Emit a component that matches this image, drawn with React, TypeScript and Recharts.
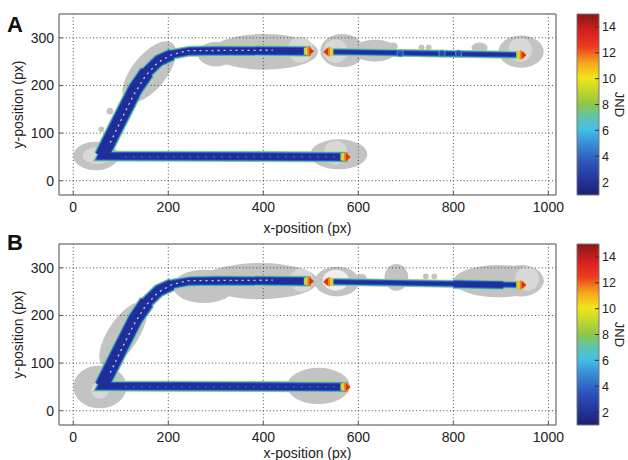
import React from 'react';
import { ComposedChart, XAxis, YAxis, Line, Scatter, ReferenceArea, ReferenceLine } from 'recharts';

const FONT = '"Liberation Sans", Arial, Helvetica, sans-serif';

const xTicks = [0, 200, 400, 600, 800, 1000];
const yTicks = [0, 100, 200, 300];
const jndTicks = [2, 4, 6, 8, 10, 12, 14];
const xDomain: [number, number] = [-30, 1016];
const yDomain: [number, number] = [-30, 350];
const jndDomain: [number, number] = [1, 15];

// trajectory centre-lines (video pixel coordinates)
const pathMain = [
  { x: 577, y: 50 }, { x: 60, y: 52 }, { x: 95, y: 122 }, { x: 131, y: 193 },
  { x: 155, y: 228 }, { x: 180, y: 252 }, { x: 210, y: 266 }, { x: 245, y: 272 },
  { x: 300, y: 273 }, { x: 500, y: 272 },
];
const pathDiagWide = [
  { x: 60, y: 52 }, { x: 95, y: 122 }, { x: 131, y: 193 }, { x: 155, y: 228 },
];
const pathDiagUpper = [
  { x: 131, y: 193 }, { x: 155, y: 228 }, { x: 180, y: 252 }, { x: 208, y: 265 },
];
const pathRight = [{ x: 535, y: 271 }, { x: 947, y: 264 }];
const pathRightThickB = [{ x: 800, y: 266 }, { x: 905, y: 264 }];
const speckleLine = [
  { x: 78, y: 80 }, { x: 102, y: 130 }, { x: 127, y: 180 }, { x: 152, y: 220 },
  { x: 178, y: 248 }, { x: 208, y: 265 }, { x: 240, y: 273 }, { x: 420, y: 274 },
];
const bottomSpeckles = [{ x: 110, y: 50 }, { x: 560, y: 50 }];

const tipsEnd = [{ x: 577, y: 50 }, { x: 500, y: 272 }, { x: 947, y: 264 }];
const tipsStart = [{ x: 533, y: 271 }];
const dotsA = [{ x: 688, y: 267 }, { x: 776, y: 267 }, { x: 811, y: 267 }];

type Region = { x1: number; x2: number; y1: number; y2: number; angle?: number };

const blobsA: Region[] = [
  { x1: 0, x2: 95, y1: 22, y2: 82 },
  { x1: 70, x2: 84, y1: 139, y2: 153 },
  { x1: 53, x2: 65, y1: 102, y2: 114 },
  { x1: 82, x2: 238, y1: 192, y2: 264, angle: -51 },
  { x1: 262, x2: 340, y1: 240, y2: 292 },
  { x1: 290, x2: 515, y1: 233, y2: 308 },
  { x1: 520, x2: 612, y1: 238, y2: 308 },
  { x1: 590, x2: 680, y1: 250, y2: 296 },
  { x1: 663, x2: 683, y1: 274, y2: 290 },
  { x1: 727, x2: 739, y1: 274, y2: 286 },
  { x1: 742, x2: 754, y1: 274, y2: 286 },
  { x1: 838, x2: 872, y1: 268, y2: 290 },
  { x1: 895, x2: 990, y1: 237, y2: 305 },
  { x1: 499, x2: 619, y1: 24, y2: 87 },
];
const lightA: Region[] = [
  { x1: 451, x2: 505, y1: 248, y2: 302 },
  { x1: 527, x2: 577, y1: 247, y2: 297 },
  { x1: 527, x2: 577, y1: 34, y2: 84 },
  { x1: 916, x2: 966, y1: 250, y2: 300 },
  { x1: 20, x2: 80, y1: 35, y2: 70 },
];
const blobsB: Region[] = [
  { x1: 0, x2: 112, y1: 5, y2: 95 },
  { x1: 27, x2: 183, y1: 128, y2: 192, angle: -57 },
  { x1: 210, x2: 340, y1: 226, y2: 296 },
  { x1: 270, x2: 515, y1: 234, y2: 310 },
  { x1: 508, x2: 602, y1: 240, y2: 302 },
  { x1: 597, x2: 617, y1: 273, y2: 287 },
  { x1: 655, x2: 705, y1: 252, y2: 308 },
  { x1: 736, x2: 748, y1: 276, y2: 288 },
  { x1: 754, x2: 766, y1: 276, y2: 288 },
  { x1: 800, x2: 990, y1: 238, y2: 306 },
  { x1: 895, x2: 990, y1: 240, y2: 306 },
  { x1: 450, x2: 582, y1: 14, y2: 90 },
];
const lightB: Region[] = [
  { x1: 38, x2: 74, y1: 25, y2: 61 },
  { x1: 930, x2: 980, y1: 252, y2: 302 },
  { x1: 455, x2: 505, y1: 250, y2: 298 },
];
const whiteB: Region[] = [
  { x1: 525, x2: 580, y1: 252, y2: 296 },
];

const tubeLayers = [
  { d: 1, c: '#b5d652' },
  { d: 0, c: '#4fc0d8' },
  { d: -1.5, c: '#2f5cc8' },
  { d: -3.5, c: '#1e2f99' },
];

const BlobShape = (p: any) => {
  const w = Math.abs(p.width);
  const h = Math.abs(p.height);
  const cx = p.x + p.width / 2;
  const cy = p.y + p.height / 2;
  return (
    <ellipse
      cx={cx}
      cy={cy}
      rx={w / 2}
      ry={h / 2}
      fill={p.color}
      transform={p.angle ? `rotate(${p.angle} ${cx} ${cy})` : undefined}
    />
  );
};

const TipEnd = (p: any) => {
  const { cx, cy } = p;
  return (
    <g>
      <rect x={cx - 7} y={cy - 3.5} width={3} height={7} fill="#b3d648" />
      <rect x={cx - 5} y={cy - 4} width={2} height={8} fill="#f3d51e" />
      <path d={`M${cx - 3.5},${cy - 5} L${cx + 1},${cy - 3} L${cx + 3},${cy} L${cx + 1},${cy + 3} L${cx - 3.5},${cy + 5} Z`} fill="#f0861c" />
      <path d={`M${cx - 1.5},${cy - 3.5} L${cx + 3},${cy} L${cx - 1.5},${cy + 3.5} Z`} fill="#df2a1c" />
    </g>
  );
};
const TipStart = (p: any) => {
  const { cx, cy } = p;
  return (
    <g>
      <rect x={cx + 4} y={cy - 3.5} width={3} height={7} fill="#b3d648" />
      <rect x={cx + 3} y={cy - 4} width={2} height={8} fill="#f3d51e" />
      <path d={`M${cx + 3.5},${cy - 5} L${cx - 1},${cy - 3} L${cx - 3},${cy} L${cx - 1},${cy + 3} L${cx + 3.5},${cy + 5} Z`} fill="#f0861c" />
      <path d={`M${cx + 1.5},${cy - 3.5} L${cx - 3},${cy} L${cx + 1.5},${cy + 3.5} Z`} fill="#df2a1c" />
    </g>
  );
};
const DotShape = (p: any) => (
  <circle cx={p.cx} cy={p.cy} r={3.3} fill="#2a48b0" stroke="#3fa8d8" strokeWidth={0.8} />
);

type Tube = { data: { x: number; y: number }[]; w: number };

function tubeLines(tubes: Tube[], prefix: string) {
  const out: any[] = [];
  tubeLayers.forEach((L, li) => {
    tubes.forEach((t, ti) => {
      const sw = t.w + L.d;
      if (sw <= 0) return;
      out.push(
        <Line
          key={`${prefix}-${li}-${ti}`}
          data={t.data}
          dataKey="y"
          type="linear"
          stroke={L.c}
          strokeWidth={sw}
          strokeLinejoin="miter"
          strokeMiterlimit={8}
          dot={false}
          activeDot={false}
          isAnimationActive={false}
          legendType="none"
        />
      );
    });
  });
  return out;
}

function blobAreas(list: Region[], color: string, prefix: string) {
  return list.map((r, i) => (
    <ReferenceArea
      key={`${prefix}${i}`}
      x1={r.x1}
      x2={r.x2}
      y1={r.y1}
      y2={r.y2}
      ifOverflow="hidden"
      shape={(p: any) => <BlobShape {...p} angle={r.angle || 0} color={color} />}
    />
  ));
}

const tickStyle = { fill: '#222', fontSize: 14, fontFamily: FONT };
const frame = { stroke: '#858585', strokeWidth: 1.5 };

function Panel(props: {
  top: number; letter: string; letterTop: number; blobs: Region[]; lights: Region[]; whites: Region[];
  tubes: Tube[]; dots: { x: number; y: number }[]; xLabelOffset: number; gradId: string;
}) {
  const { top, letter, letterTop, blobs, lights, whites, tubes, dots, xLabelOffset, gradId } = props;
  return (
    <>
      <div style={{ position: 'absolute', left: 7, top: letterTop, fontFamily: FONT, fontWeight: 'bold', fontSize: 22, lineHeight: '22px', color: '#111' }}>
        {letter}
      </div>
      <div style={{ position: 'absolute', left: 0, top }}>
        <ComposedChart width={628} height={240} margin={{ top: 14, right: 72, bottom: 5, left: 19 }}>
          <XAxis
            xAxisId={0}
            dataKey="x"
            type="number"
            domain={xDomain}
            ticks={xTicks}
            allowDataOverflow
            height={40}
            tickSize={-4}
            tickMargin={11}
            axisLine={frame}
            tickLine={{ stroke: '#555' }}
            tick={tickStyle}
            label={{ value: 'x-position (px)', position: 'insideBottom', offset: xLabelOffset, fill: '#222', fontSize: 14, fontFamily: FONT }}
          />
          <XAxis
            xAxisId="top"
            orientation="top"
            mirror
            dataKey="x"
            type="number"
            domain={xDomain}
            ticks={xTicks}
            allowDataOverflow
            tick={false}
            tickSize={4}
            axisLine={frame}
            tickLine={{ stroke: '#555' }}
          />
          <YAxis
            yAxisId={0}
            dataKey="y"
            type="number"
            domain={yDomain}
            ticks={yTicks}
            allowDataOverflow
            width={40}
            tickSize={-4}
            tickMargin={9}
            axisLine={frame}
            tickLine={{ stroke: '#555' }}
            tick={tickStyle}
            label={{ value: 'y-position (px)', angle: -90, position: 'insideLeft', offset: -1, fill: '#222', fontSize: 14, fontFamily: FONT, style: { textAnchor: 'middle' } }}
          />
          <YAxis
            yAxisId="right"
            orientation="right"
            mirror
            dataKey="y"
            type="number"
            domain={yDomain}
            ticks={yTicks}
            allowDataOverflow
            tick={false}
            tickSize={4}
            axisLine={frame}
            tickLine={{ stroke: '#555' }}
          />
          {blobAreas(blobs, '#c3c3c3', 'b')}
          {blobAreas(lights, '#d8d8d8', 'l')}
          {blobAreas(whites, '#efefef', 'w')}
          {xTicks.map((v) => (
            <ReferenceLine key={`gx${v}`} x={v} stroke="#4a4a4a" strokeDasharray="1 2.4" strokeWidth={1} />
          ))}
          {yTicks.map((v) => (
            <ReferenceLine key={`gy${v}`} y={v} stroke="#4a4a4a" strokeDasharray="1 2.4" strokeWidth={1} />
          ))}
          {tubeLines(tubes, letter)}
          <Line data={speckleLine} dataKey="y" type="linear" stroke="#ffffff" strokeOpacity={0.75} strokeWidth={1.3} strokeDasharray="2 4" dot={false} activeDot={false} isAnimationActive={false} legendType="none" />
          <Line data={bottomSpeckles} dataKey="y" type="linear" stroke="#7fc0ec" strokeOpacity={0.8} strokeWidth={1.2} strokeDasharray="1 7" dot={false} activeDot={false} isAnimationActive={false} legendType="none" />
          <Scatter data={dots} dataKey="y" shape={(p: any) => <DotShape {...p} />} isAnimationActive={false} legendType="none" />
          <Scatter data={tipsEnd} dataKey="y" shape={(p: any) => <TipEnd {...p} />} isAnimationActive={false} legendType="none" />
          <Scatter data={tipsStart} dataKey="y" shape={(p: any) => <TipStart {...p} />} isAnimationActive={false} legendType="none" />
        </ComposedChart>
      </div>
      <div style={{ position: 'absolute', left: 560, top }}>
        <ColorBar gradId={gradId} />
      </div>
    </>
  );
}

const jetStops = [
  { o: 0, c: '#1c1f70' },
  { o: 0.07, c: '#243197' },
  { o: 0.18, c: '#2c55bc' },
  { o: 0.29, c: '#3a8fd8' },
  { o: 0.36, c: '#42bfe6' },
  { o: 0.43, c: '#5fc4ae' },
  { o: 0.5, c: '#8cc64a' },
  { o: 0.6, c: '#d2dc24' },
  { o: 0.65, c: '#f3e31a' },
  { o: 0.73, c: '#f7a51c' },
  { o: 0.82, c: '#ec3a1f' },
  { o: 0.9, c: '#d8201e' },
  { o: 1, c: '#8a1616' },
];

function ColorBar({ gradId }: { gradId: string }) {
  const data = [{ x: 0, y: jndDomain[0] }, { x: 1, y: jndDomain[1] }];
  return (
    <ComposedChart width={68} height={240} data={data} margin={{ top: 14, right: 0, bottom: 45, left: 17 }}>
      <defs>
        <linearGradient id={gradId} x1="0" y1="1" x2="0" y2="0">
          {jetStops.map((s) => (
            <stop key={s.o} offset={s.o} stopColor={s.c} />
          ))}
        </linearGradient>
      </defs>
      <XAxis dataKey="x" type="number" domain={[0, 1]} hide />
      <YAxis
        dataKey="y"
        orientation="right"
        type="number"
        domain={jndDomain}
        ticks={jndTicks}
        allowDataOverflow
        width={29}
        tickSize={-4}
        tickMargin={7}
        axisLine={false}
        tickLine={{ stroke: '#333' }}
        tick={{ fill: '#222', fontSize: 12.5, fontFamily: FONT }}
        label={{ value: 'JND', angle: 90, position: 'insideRight', offset: 8, fill: '#222', fontSize: 13, fontFamily: FONT, style: { textAnchor: 'middle' } }}
      />
      <ReferenceArea x1={0} x2={1} y1={jndDomain[0]} y2={jndDomain[1]} fill={`url(#${gradId})`} fillOpacity={1} stroke="#777" strokeWidth={1} ifOverflow="visible" />
    </ComposedChart>
  );
}

const tubesA: Tube[] = [
  { data: pathMain, w: 10 },
  { data: pathDiagWide, w: 16 },
  { data: pathDiagUpper, w: 13 },
  { data: pathRight, w: 7 },
];
const tubesB: Tube[] = [
  { data: pathMain, w: 10 },
  { data: pathDiagWide, w: 16 },
  { data: pathDiagUpper, w: 13 },
  { data: pathRight, w: 7 },
  { data: pathRightThickB, w: 9 },
];

export default function App() {
  return (
    <div style={{ position: 'absolute', left: 0, top: 0, width: 628, height: 460, overflow: 'hidden', background: '#fff' }}>
      <Panel top={0} letter="A" letterTop={14} blobs={blobsA} lights={lightA} whites={[]} tubes={tubesA} dots={dotsA} xLabelOffset={2} gradId="jetA" />
      <Panel top={230} letter="B" letterTop={232} blobs={blobsB} lights={lightB} whites={whiteB} tubes={tubesB} dots={[]} xLabelOffset={7} gradId="jetB" />
    </div>
  );
}
